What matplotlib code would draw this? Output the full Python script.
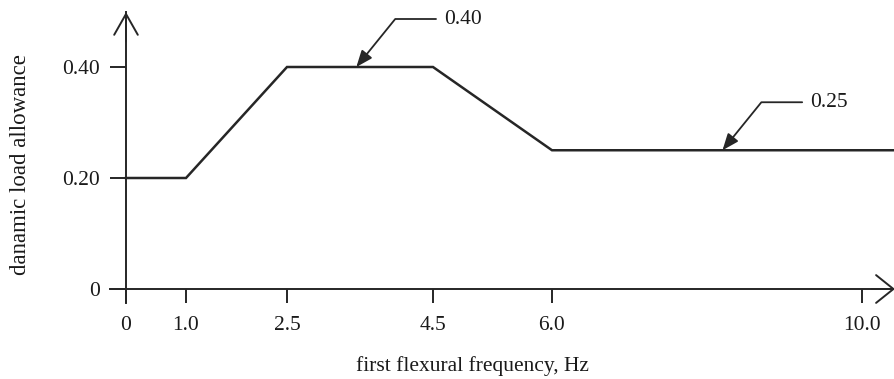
import numpy as np
import matplotlib
matplotlib.use("Agg")
import matplotlib.pyplot as plt

# ---- data ----
freq = [0.0, 1.0, 2.5, 4.5, 6.0, 10.4]
dla = [0.20, 0.20, 0.40, 0.40, 0.25, 0.25]
xticks = [0.0, 1.0, 2.5, 4.5, 6.0, 10.0]
xticklabels = ["0", "1.0", "2.5", "4.5", "6.0", "10.0"]
yticks = [0.0, 0.20, 0.40]
yticklabels = ["0", "0.20", "0.40"]
ann_labels = ["0.40", "0.25"]
ann_x = [3.45, 8.2]
ann_y = [0.40, 0.25]

plt.rcParams['font.family'] = ['Liberation Serif', 'DejaVu Serif']
ink = '#262626'
txt = '#1a1a1a'

# hand-drawn, non-uniform frequency axis: piecewise-linear scale
_kv = np.array([0.0, 1.0, 2.5, 4.5, 6.0, 10.0])
_kt = np.array([0.0, 60.0, 161.0, 307.0, 426.0, 736.0])

def fwd(x):
    x = np.asarray(x, dtype=float)
    y = np.interp(x, _kv, _kt)
    y = np.where(x < _kv[0], _kt[0] + (x - _kv[0]) * (_kt[1] - _kt[0]) / (_kv[1] - _kv[0]), y)
    y = np.where(x > _kv[-1], _kt[-1] + (x - _kv[-1]) * (_kt[-1] - _kt[-2]) / (_kv[-1] - _kv[-2]), y)
    return y

def inv(t):
    t = np.asarray(t, dtype=float)
    x = np.interp(t, _kt, _kv)
    x = np.where(t < _kt[0], _kv[0] + (t - _kt[0]) * (_kv[1] - _kv[0]) / (_kt[1] - _kt[0]), x)
    x = np.where(t > _kt[-1], _kv[-1] + (t - _kt[-1]) * (_kv[-1] - _kv[-2]) / (_kt[-1] - _kt[-2]), x)
    return x

fig = plt.figure(figsize=(8.95, 3.79), dpi=100)
W, H = 895.0, 379.0
ax = fig.add_axes([110 / W, (H - 303) / H, 785 / W, 291 / H])
ax.set_xscale('function', functions=(fwd, inv))
ax.set_xlim(inv(-16.0), inv(769.0))
ax.set_ylim(-14 / 555.0, 277 / 555.0)

ax.plot(freq, dla, color=ink, lw=1.8, solid_joinstyle='miter', clip_on=False)

for s in ['top', 'right']:
    ax.spines[s].set_visible(False)
ax.spines['bottom'].set_position(('data', 0))
ax.spines['left'].set_position(('data', 0))
for s in ['bottom', 'left']:
    ax.spines[s].set_color(ink)
    ax.spines[s].set_linewidth(1.4)

ax.set_xticks(xticks)
ax.set_xticklabels(xticklabels)
ax.set_yticks(yticks)
ax.set_yticklabels(yticklabels)
ax.xaxis.set_minor_locator(matplotlib.ticker.NullLocator())
ax.tick_params(axis='x', direction='out', length=10, width=1.4, color=ink,
               pad=9.5, labelsize=15.5, labelcolor=txt)
ax.tick_params(axis='y', direction='out', length=11.5, width=1.4, color=ink,
               pad=7, labelsize=15.5, labelcolor=txt)

# axis arrowheads (open)
ax.annotate('', xy=(1.0, 0), xycoords=('axes fraction', 'data'),
            xytext=(0.97, 0), textcoords=('axes fraction', 'data'),
            arrowprops=dict(arrowstyle='->,head_length=1.25,head_width=1.0',
                            color=ink, lw=1.4, mutation_scale=10,
                            shrinkA=0, shrinkB=0))
ax.annotate('', xy=(0, 1.0), xycoords=('data', 'axes fraction'),
            xytext=(0, 0.9), textcoords=('data', 'axes fraction'),
            arrowprops=dict(arrowstyle='->,head_length=1.5,head_width=0.85',
                            color=ink, lw=1.4, mutation_scale=10,
                            shrinkA=0, shrinkB=0))

# value callouts
for lab, xv, yv in zip(ann_labels, ann_x, ann_y):
    ax.annotate(lab, xy=(xv, yv), xytext=(88, 48), textcoords='offset pixels',
                ha='left', va='center', fontsize=15.5, color=txt,
                arrowprops=dict(arrowstyle='-|>,head_length=1.0,head_width=0.4',
                                connectionstyle='angle,angleA=0,angleB=51,rad=0',
                                color=ink, lw=1.3, mutation_scale=10,
                                relpos=(0, 0.5), shrinkA=4, shrinkB=0))

ax.set_xlabel('first flexural frequency, Hz', fontsize=15.5, color=txt)
ax.set_ylabel('danamic load allowance', fontsize=16.5, color=txt)
ax.xaxis.set_label_coords((472 - 110) / 785, (303 - 356) / 291)
ax.yaxis.set_label_coords((31 - 110) / 785, (303 - 165) / 291)

fig.savefig('out.png', dpi=100)
